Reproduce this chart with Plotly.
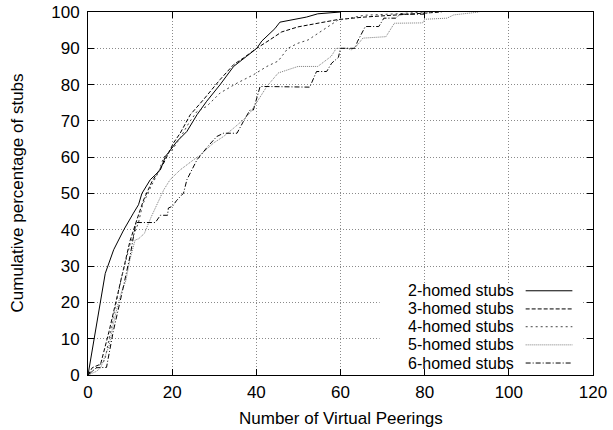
import plotly.graph_objects as go

# ---- data ----
x2 = [0, 1.35, 2.9, 4.1, 6.1, 8.5, 10.8, 12, 12.8, 14, 14.8, 17.2, 18.4, 21.1, 23.5, 25.9, 28.2, 31.4,
      34.6, 37.7, 40.1, 41.3, 43.6, 44.4, 45.6, 48.4, 51.9, 54.6, 59.3, 60]
y2 = [0, 9.6, 20.7, 28, 34.5, 40, 44.6, 46.9, 50, 52.4, 53.8, 56.5, 60.2, 64.3, 67.1, 71.7, 75.4, 80,
      85, 87.8, 90, 92, 94.5, 95.4, 97.2, 97.9, 98.6, 99.5, 99.8, 100]

x3 = [0, 1, 3, 5, 7, 9, 10, 11.6, 13.2, 15.2, 18, 20.3, 21.9, 24.3, 27.4, 31.4, 34.6, 36.9, 40.1,
      43.3, 46, 49.9, 53.9, 59.3, 65.6, 73.5, 81.4, 84]
y3 = [0, 2, 3, 12, 22, 32, 37, 42.7, 48.2, 53.3, 58.4, 63.9, 66.6, 71.7, 75.8, 81.4, 85.5, 87.3, 90,
      92.4, 94.5, 95.9, 96.8, 97.9, 98.6, 99.1, 99.8, 100]

x4 = [0, 2, 4, 6, 8, 10, 12, 13, 15, 16.8, 18, 20, 22, 24, 25.9, 28.2, 31.4, 35.4, 39.3, 42.5, 45.2,
      47.5, 49.9, 52.3, 54.6, 57, 59.3, 61.7, 65.6, 73.5, 80]
y4 = [0, 2, 4, 16, 27, 36, 42, 47, 52, 56, 60, 62, 65.5, 69.5, 72.6, 74, 77.7, 80.4, 82.7, 85, 86.5,
      90, 91.4, 92.3, 94.1, 95.9, 97.7, 98.2, 99.1, 99.5, 100]

x5 = [0, 2, 3, 5, 6, 7, 8, 9, 10, 11.2, 12, 13.4, 15, 16.8, 18, 19.5, 21.9, 25.1, 26.7, 29.8, 32.2,
      34.6, 36.9, 38.5, 40.9, 42.5, 45.2, 47.5, 49.9, 54.6, 56.2, 57.8, 59, 61.8, 62.5, 64.1, 65.3,
      70.8, 72.8, 79.5, 80, 85.3, 86.9, 91.7, 93]
y5 = [0, 1, 2, 8, 14, 19, 23, 26, 32, 37.2, 37.5, 39, 43.5, 48.2, 51, 53.8, 56.5, 59.3, 60.6, 63.9,
      65.7, 68, 70.3, 72.2, 76.7, 79.5, 83.2, 84.1, 85, 85, 86.4, 87.8, 90, 90, 89.5, 91, 92.8, 93.2,
      96.9, 97, 98, 98.3, 99.2, 99.8, 100]

x6 = [0, 2, 4.4, 6, 8.1, 10, 11.4, 16, 17.2, 18.9, 19.1, 20.1, 21, 22.7, 23.5, 24.8, 25.9, 28.5, 30.6,
      32.2, 35.4, 36.9, 38.5, 39.3, 40.9, 52.7, 53.4, 54.3, 56.7, 57.9, 59.5, 60, 63.5, 64, 65.9, 69.1,
      70.3, 73.1, 74.2, 80.2, 81]
y6 = [0, 2, 2.1, 12, 22.7, 32.8, 42, 42, 44, 44, 46, 46.5, 48, 50.1, 53.8, 57, 59.3, 63, 65.7, 66.6,
      66.6, 69.8, 73, 73, 79.5, 79.3, 81.2, 83.6, 83.6, 85.9, 87.5, 90, 90, 91.8, 96, 96, 98.3, 98.3,
      99.4, 99.4, 100]

names = ["2-homed stubs", "3-homed stubs", "4-homed stubs", "5-homed stubs", "6-homed stubs"]
xs = [x2, x3, x4, x5, x6]
ys = [y2, y3, y4, y5, y6]

x_ticks = [0, 20, 40, 60, 80, 100, 120]
y_ticks = [0, 10, 20, 30, 40, 50, 60, 70, 80, 90, 100]
x_title = "Number of Virtual Peerings"
y_title = "Cumulative percentage of stubs"

# ---- styles ----
colors = ["#000000", "#000000", "#444444", "#7a7a7a", "#000000"]
dashes = ["solid", "4px,2px", "2px,3px", "1px,1px", "5px,2px,1px,2px"]

FONT = "Liberation Sans, Arial, Helvetica, sans-serif"

fig = go.Figure()
for x, y, n, c, d in zip(xs, ys, names, colors, dashes):
    fig.add_trace(go.Scatter(x=x, y=y, mode="lines", name=n,
                             line=dict(color=c, width=1, dash=d), showlegend=False))

# white key box hiding the grid under the key
fig.add_shape(type="rect", xref="x", yref="y", x0=69.3, x1=117.5, y0=0, y1=24.8,
              fillcolor="white", line=dict(width=0), layer="between")

# manual gnuplot-style key: text right-aligned, sample on the right
key_y = [23.2, 18.2, 13.3, 8.3, 3.3]
for n, c, d, ky in zip(names, colors, dashes, key_y):
    fig.add_annotation(x=101.4, y=ky, xref="x", yref="y", text=n, showarrow=False,
                       xanchor="right", yanchor="middle", borderpad=0,
                       font=dict(family=FONT, size=16, color="black"))
    fig.add_shape(type="line", xref="x", yref="y", x0=104, x1=115.1, y0=ky, y1=ky,
                  line=dict(color=c, width=1, dash=d))

# axis titles (placed like gnuplot)
fig.add_annotation(x=0.5, y=0, xref="paper", yref="paper", text=x_title, showarrow=False,
                   xanchor="center", yanchor="middle", yshift=-43,
                   font=dict(family=FONT, size=17, color="black"))
fig.add_annotation(x=0, y=0.5, xref="paper", yref="paper", text=y_title, showarrow=False,
                   xanchor="center", yanchor="middle", xshift=-71, textangle=-90,
                   font=dict(family=FONT, size=17, color="black"))

axis_common = dict(showline=True, linecolor="black", linewidth=1, mirror="ticks",
                   ticks="inside", ticklen=6, tickcolor="black", tickwidth=1,
                   showgrid=True, gridcolor="#8a8a8a", gridwidth=1, griddash="1px,2px",
                   zeroline=False, automargin=False, ticklabeloverflow="allow",
                   tickfont=dict(family=FONT, size=17, color="black"))

fig.update_xaxes(range=[0, 120], tickvals=x_ticks, ticktext=[str(v) for v in x_ticks],
                 ticklabelstandoff=2, **axis_common)
fig.update_yaxes(range=[0, 100], tickvals=y_ticks, ticktext=[str(v) for v in y_ticks],
                 ticklabelstandoff=4, **axis_common)

fig.update_layout(width=613, height=430,
                  margin=dict(l=88, r=20, t=12, b=55, pad=0),
                  plot_bgcolor="white", paper_bgcolor="white",
                  hovermode=False,
                  font=dict(family=FONT, size=17, color="black"))

# remove the default 8px body margin so the figure fills the window exactly
fig.write_html("out.html", config={"displayModeBar": False, "staticPlot": True},
               post_script="document.body.style.margin='0px';document.body.style.overflow='hidden';")
